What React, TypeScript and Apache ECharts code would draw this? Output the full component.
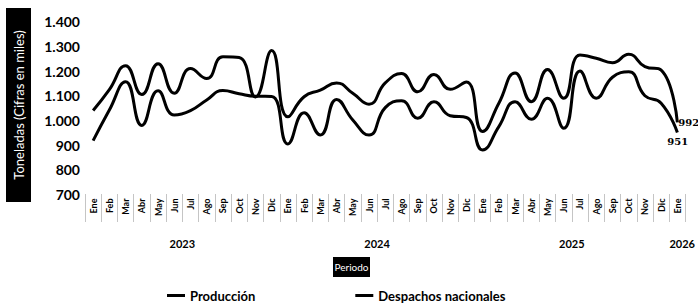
import React, { useEffect, useRef } from "react";
import * as echarts from "echarts";

const months = ["Ene", "Feb", "Mar", "Abr", "May", "Jun", "Jul", "Ago", "Sep", "Oct", "Nov", "Dic"];
const years = ["2023", "2024", "2025"];
const lastPeriod = "Ene-2026";
const yearLabels = ["2023", "2024", "2025", "2026"];
const yearLabelPositions = [5.5, 17.5, 29.5, 36.3];

const produccion = [
  1040, 1125, 1222, 1105, 1230, 1110, 1210, 1170, 1258, 1255, 1095, 1283,
  1015, 1096, 1123, 1152, 1110, 1066, 1152, 1190, 1116, 1186, 1126, 1156,
  955, 1070, 1192, 1076, 1206, 1090, 1265, 1252, 1234, 1268, 1218, 1204,
  992,
];
const despachos = [
  918, 1042, 1157, 980, 1120, 1022, 1040, 1083, 1121, 1108, 1098, 1097,
  905, 1031, 941, 1085, 1002, 941, 1052, 1080, 1009, 1076, 1019, 1012,
  880, 975, 1076, 1005, 1090, 968, 1200, 1090, 1175, 1197, 1100, 1070,
  951,
];

const categories: string[] = [];
years.forEach((y) => months.forEach((m) => categories.push(m + "-" + y)));
categories.push(lastPeriod);

const FONT = "Lato";

function fmtThousands(v: number): string {
  if (v >= 1000) {
    const th = Math.floor(v / 1000);
    const rest = String(v % 1000).padStart(3, "0");
    return th + "." + rest;
  }
  return String(v);
}

export default function App() {
  const ref = useRef<HTMLDivElement>(null);
  useEffect(() => {
    if (!ref.current) return;
    const chart = echarts.init(ref.current, undefined, { renderer: "svg" });
    chart.setOption({
      animation: false,
      backgroundColor: "#ffffff",
      textStyle: { fontFamily: FONT },
      grid: { left: 85, right: 10, top: 21.7, bottom: 109.5, containLabel: false },
      legend: {
        left: 162,
        top: 284,
        itemGap: 100,
        itemWidth: 18,
        itemHeight: 3,
        icon: "rect",
        textStyle: { fontSize: 13, fontWeight: "bold", color: "#000", fontFamily: FONT },
        data: ["Producción", "Despachos nacionales"],
      },
      xAxis: [
        {
          type: "category",
          data: categories,
          boundaryGap: true,
          axisLine: { show: false },
          axisTick: {
            show: true,
            alignWithLabel: false,
            length: 28,
            lineStyle: { type: "dotted", color: "#8a8a8a", width: 1 },
          },
          axisLabel: {
            interval: 0,
            rotate: 90,
            margin: 4,
            fontSize: 9,
            fontWeight: "bold",
            color: "#000",
            fontFamily: FONT,
            formatter: (v: string) => v.split("-")[0],
          },
          splitLine: { show: false },
        },
        {
          type: "value",
          position: "bottom",
          min: -0.5,
          max: 36.5,
          offset: 35,
          axisLine: { show: false },
          axisTick: { show: false },
          splitLine: { show: false },
          axisLabel: {
            customValues: yearLabelPositions,
            margin: 8,
            fontSize: 11,
            fontWeight: "bold",
            color: "#000",
            fontFamily: FONT,
            formatter: (v: number) => {
              const i = yearLabelPositions.indexOf(v);
              return i >= 0 ? yearLabels[i] : "";
            },
          },
        },
      ],
      yAxis: {
        type: "value",
        min: 700,
        max: 1400,
        interval: 100,
        axisLine: { show: false },
        axisTick: { show: false },
        splitLine: { show: false },
        axisLabel: {
          margin: 5,
          fontSize: 14,
          fontWeight: "bold",
          color: "#000",
          fontFamily: FONT,
          formatter: (v: number) => fmtThousands(v),
        },
      },
      series: [
        {
          name: "Producción",
          type: "line",
          data: produccion,
          smooth: true,
          symbol: "none",
          lineStyle: { color: "#000", width: 3 },
          itemStyle: { color: "#000" },
          endLabel: {
            show: true,
            distance: 1,
            fontSize: 10,
            fontWeight: "bold",
            fontFamily: "DejaVu Serif",
            color: "#000",
            formatter: (p: any) => String(p.value),
          },
        },
        {
          name: "Despachos nacionales",
          type: "line",
          data: despachos,
          smooth: true,
          symbol: "none",
          lineStyle: { color: "#000", width: 3 },
          itemStyle: { color: "#000" },
          endLabel: {
            show: true,
            distance: 2,
            offset: [-12, 9],
            fontSize: 10,
            fontWeight: "bold",
            fontFamily: "DejaVu Serif",
            color: "#000",
            formatter: (p: any) => String(p.value),
          },
        },
      ],
      graphic: [
        {
          type: "rect",
          shape: { x: 6, y: 8, width: 25, height: 194 },
          style: { fill: "#000" },
        },
        {
          type: "text",
          x: 19,
          y: 105,
          rotation: Math.PI / 2,
          style: {
            text: "Toneladas (Cifras en miles)",
            fill: "#fff",
            fontSize: 13,
            fontFamily: FONT,
            align: "center",
            verticalAlign: "middle",
          },
        },
        {
          type: "rect",
          shape: { x: 333, y: 257, width: 37, height: 20 },
          style: { fill: "#000" },
        },
        {
          type: "text",
          x: 351.5,
          y: 267,
          style: {
            text: "Periodo",
            fill: "#fff",
            fontSize: 10,
            fontFamily: FONT,
            align: "center",
            verticalAlign: "middle",
          },
        },
      ],
    });
    return () => chart.dispose();
  }, []);
  return <div ref={ref} style={{ width: 698, height: 304, position: "absolute", left: 0, top: 0 }} />;
}
